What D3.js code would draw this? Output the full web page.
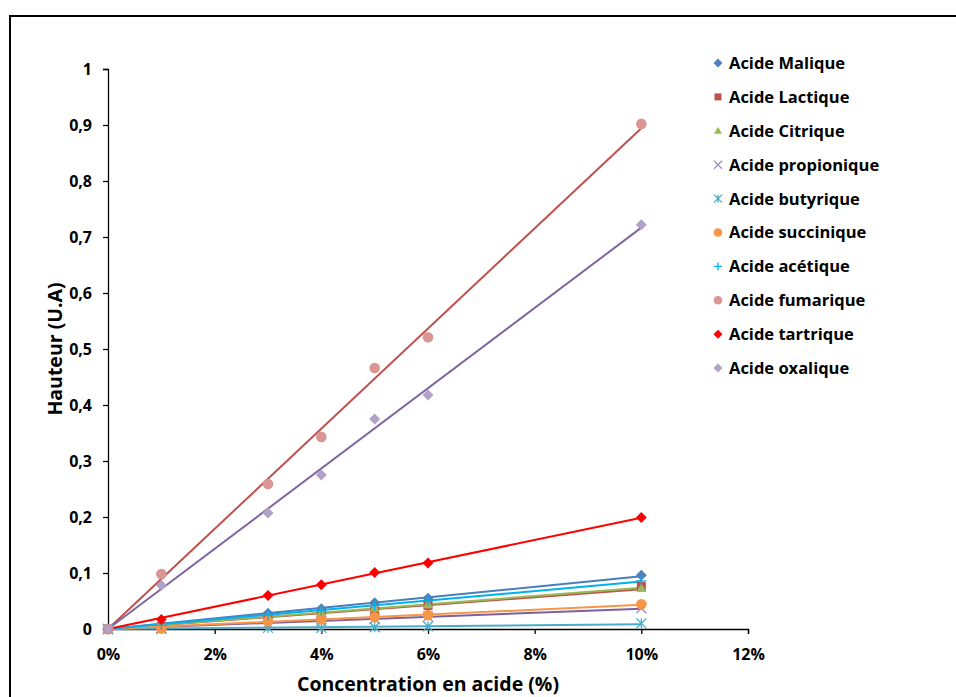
<!DOCTYPE html>
<html>
<head>
<meta charset="utf-8">
<script src="https://cdn.jsdelivr.net/npm/d3@7"></script>
<style>
  html, body { margin: 0; padding: 0; background: #fff; }
  svg { display: block; }
  text { font-family: "Open Sans", Lato, sans-serif; font-weight: 700; fill: #000; }
</style>
</head>
<body>
<svg id="chart" width="956" height="697"></svg>
<script>
// ---- data ----
const concentrations = [0, 1, 3, 4, 5, 6, 10];   // %
const seriesNames = [
  "Acide Malique", "Acide Lactique", "Acide Citrique", "Acide propionique",
  "Acide butyrique", "Acide succinique", "Acide acétique", "Acide fumarique",
  "Acide tartrique", "Acide oxalique"
];
const malique     = [0, 0.008, 0.028, 0.036, 0.047, 0.055, 0.096];
const lactique    = [0, 0.004, 0.018, 0.024, 0.032, 0.042, 0.076];
const citrique    = [0, 0.006, 0.022, 0.030, 0.038, 0.044, 0.073];
const propionique = [0, 0.002, 0.010, 0.014, 0.018, 0.022, 0.037];
const butyrique   = [0, 0.000, 0.002, 0.002, 0.003, 0.005, 0.010];
const succinique  = [0, 0.001, 0.014, 0.017, 0.021, 0.025, 0.044];
const acetique    = [0, 0.007, 0.025, 0.033, 0.042, 0.050, 0.086];
const fumarique   = [0, 0.098, 0.259, 0.343, 0.466, 0.521, 0.902];
const tartrique   = [0, 0.017, 0.060, 0.079, 0.101, 0.118, 0.199];
const oxalique    = [0, 0.078, 0.207, 0.275, 0.375, 0.418, 0.722];
const seriesValues = [malique, lactique, citrique, propionique, butyrique,
                      succinique, acetique, fumarique, tartrique, oxalique];
const xTicks = [0, 2, 4, 6, 8, 10, 12];
const yTicks = [0, 0.1, 0.2, 0.3, 0.4, 0.5, 0.6, 0.7, 0.8, 0.9, 1];

// ---- styles ----
const markerShapes = ["diamond", "square", "triangle", "x", "asterisk", "circle", "plus", "circle", "diamond", "diamond"];
const markerColors = ["#4f81bd", "#c0504d", "#9bbb59", "#a08fc4", "#4bacc6", "#f79646", "#00b0f0", "#d99694", "#ff0000", "#b3a2c7"];
const lineColors   = ["#4a7ebb", "#c0504d", "#98b954", "#7d60a0", "#4bacc6", "#f79646", "#00b0f0", "#c0504d", "#ff0000", "#8064a2"];

const svg = d3.select("#chart");

// outer frame
svg.append("rect").attr("x", 10).attr("y", 16).attr("width", 960).attr("height", 700)
  .attr("fill", "none").attr("stroke", "#000").attr("stroke-width", 2);

const x = d3.scaleLinear().domain([0, 12]).range([108, 748]);
const y = d3.scaleLinear().domain([0, 1]).range([629, 69]);

// axes
const fmtY = v => d3.format(".1~f")(v).replace(".", ",");
const yAxis = svg.append("g").attr("transform", `translate(${x(0)},0)`)
  .call(d3.axisLeft(y).tickValues(yTicks).tickFormat(fmtY).tickSize(5).tickPadding(11));
const xAxis = svg.append("g").attr("transform", `translate(0,${y(0)})`)
  .call(d3.axisBottom(x).tickValues(xTicks).tickFormat(d => d + "%").tickSize(5).tickPadding(15));
[yAxis, xAxis].forEach(a => {
  a.select(".domain").attr("stroke", "#000").attr("stroke-width", 1.3);
  a.selectAll(".tick line").attr("stroke", "#000").attr("stroke-width", 1.3);
  a.selectAll("text").attr("font-family", "'Open Sans', sans-serif").attr("font-weight", 700)
    .attr("font-size", 16).attr("fill", "#000");
});

// axis titles
svg.append("text").attr("x", 428).attr("y", 691).attr("text-anchor", "middle")
  .attr("font-size", 19.5).text("Concentration en acide (%)");
svg.append("text").attr("transform", "translate(62,349) rotate(-90)").attr("text-anchor", "middle")
  .attr("font-size", 19.5).text("Hauteur (U.A)");

// trendlines (linear fit through origin)
const trend = seriesValues.map(vals => {
  let sxy = 0, sxx = 0;
  vals.forEach((v, i) => { sxy += concentrations[i] * v; sxx += concentrations[i] ** 2; });
  return sxy / sxx;
});
const line = d3.line().x(d => x(d[0])).y(d => y(d[1]));
seriesValues.forEach((vals, s) => {
  const xmax = d3.max(concentrations);
  svg.append("path").datum([[0, 0], [xmax, trend[s] * xmax]])
    .attr("d", line).attr("fill", "none").attr("stroke", lineColors[s]).attr("stroke-width", 2);
});

// marker drawing
function drawMarker(g, shape, color, size) {
  const h = size / 2;
  if (shape === "diamond") {
    g.append("path").attr("d", `M0,${-h-0.5}L${h+0.5},0L0,${h+0.5}L${-h-0.5},0Z`).attr("fill", color);
  } else if (shape === "square") {
    g.append("rect").attr("x", -h + 0.5).attr("y", -h + 0.5).attr("width", size - 1).attr("height", size - 1).attr("fill", color);
  } else if (shape === "triangle") {
    g.append("path").attr("d", `M0,${-h}L${h},${h - 1}L${-h},${h - 1}Z`).attr("fill", color);
  } else if (shape === "circle") {
    g.append("circle").attr("r", h + 0.3).attr("fill", color);
  } else if (shape === "x") {
    g.append("path").attr("d", `M${-h},${-h}L${h},${h}M${-h},${h}L${h},${-h}`).attr("stroke", color).attr("stroke-width", 1.3);
  } else if (shape === "plus") {
    g.append("path").attr("d", `M${-h},0L${h},0M0,${-h}L0,${h}`).attr("stroke", color).attr("stroke-width", 1.3);
  } else if (shape === "asterisk") {
    g.append("path").attr("d", `M${-h},${-h}L${h},${h}M${-h},${h}L${h},${-h}M0,${-h}L0,${h}`).attr("stroke", color).attr("stroke-width", 1.3);
  }
}

// data markers
seriesValues.forEach((vals, s) => {
  const g = svg.append("g");
  vals.forEach((v, i) => {
    const m = g.append("g").attr("transform", `translate(${x(concentrations[i])},${y(v)})`);
    drawMarker(m, markerShapes[s], markerColors[s], 10);
  });
});

// legend
const legend = svg.append("g");
seriesNames.forEach((name, s) => {
  const cy = 63 + s * 33.9;
  const m = legend.append("g").attr("transform", `translate(718,${cy})`);
  drawMarker(m, markerShapes[s], markerColors[s], 8);
  legend.append("text").attr("x", 729).attr("y", cy).attr("dy", "0.36em")
    .attr("font-size", 16.5).text(name);
});
</script>
</body>
</html>
